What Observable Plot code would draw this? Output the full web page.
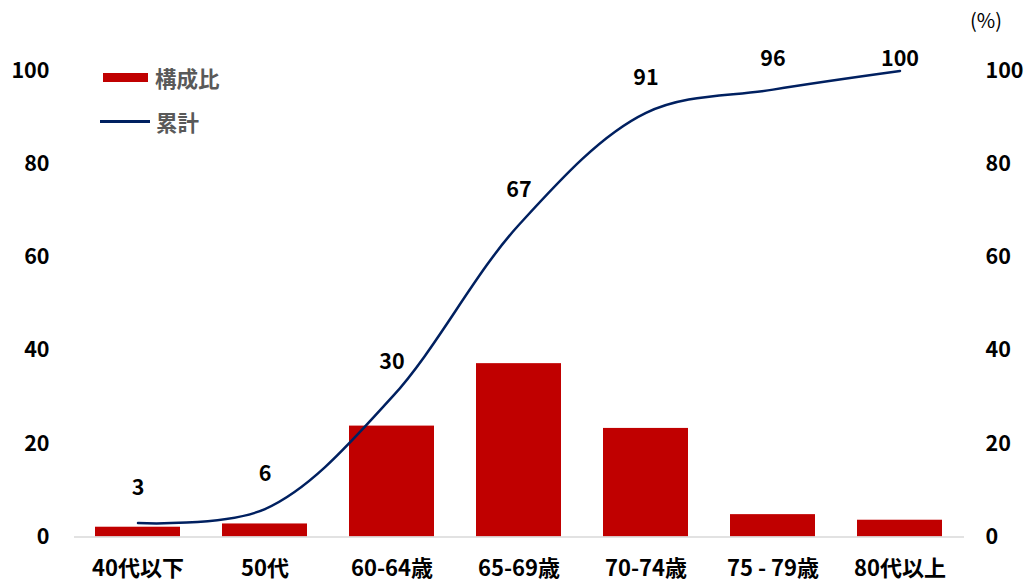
<!DOCTYPE html>
<html lang="ja">
<head>
<meta charset="utf-8">
<script src="https://cdn.jsdelivr.net/npm/d3@7"></script>
<script src="https://cdn.jsdelivr.net/npm/@observablehq/plot@0.6"></script>
<style>
  html, body { margin: 0; padding: 0; background: #fff; }
  #wrap { position: relative; width: 1027px; height: 587px; font-family: "Noto Sans CJK JP", sans-serif; }
  .legend { position: absolute; left: 0; top: 0; font-size: 21.5px; font-weight: 700; color: #595959; }
  .legend .item { position: absolute; display: flex; align-items: center; white-space: nowrap; }
  .legend .bar { width: 45px; height: 9px; background: #C00000; margin-right: 7px; }
  .legend .line { width: 50px; height: 2.5px; background: #002060; margin-right: 6px; }
  .unit { position: absolute; left: 970px; top: 5px; font-size: 20px; color: #000; }
</style>
</head>
<body>
<div id="wrap">
  <div class="unit">(%)</div>
  <div class="legend">
    <div class="item" style="left:103px; top:62px;"><span class="bar"></span>構成比</div>
    <div class="item" style="left:100px; top:106px;"><span class="line"></span>累計</div>
  </div>
</div>
<script>
// Age groups and their shares (%), with the running total
const categories = ["40代以下", "50代", "60-64歳", "65-69歳", "70-74歳", "75 - 79歳", "80代以上"];
const shares = [2.1, 2.8, 23.8, 37.2, 23.3, 4.8, 3.6];
const cumulative = [3, 6, 30, 67, 91, 96, 100];
const yTicks = [0, 20, 40, 60, 80, 100];

const rows = categories.map((c, i) => ({cat: c, share: shares[i], cum: cumulative[i]}));

const font = "'Noto Sans CJK JP', sans-serif";

const chart = Plot.plot({
  width: 1027,
  height: 587,
  marginTop: 70.5,
  marginBottom: 50.5,
  marginLeft: 74,
  marginRight: 63,
  style: {fontFamily: font, fontSize: "21.5px", fontWeight: 700, color: "#000", background: "#fff"},
  x: {domain: categories, paddingInner: 0.33, paddingOuter: 0.165, label: null},
  y: {domain: [0, 100], label: null},
  marks: [
    Plot.axisY({anchor: "left", ticks: yTicks, tickSize: 0, tickPadding: 25, label: null, fill: "#000"}),
    Plot.axisY({anchor: "right", ticks: yTicks, tickSize: 0, tickPadding: 21, label: null, fill: "#000", textAnchor: "start"}),
    Plot.axisX({tickSize: 0, tickPadding: 23, label: null, fill: "#000", fontSize: 22}),
    Plot.barY(rows, {x: "cat", y: "share", fill: "#C00000"}),
    Plot.ruleY([0], {stroke: "#d9d9d9", strokeWidth: 1.5}),
    Plot.line(rows, {x: "cat", y: "cum", stroke: "#002060", strokeWidth: 2.5, curve: "catmull-rom"}),
    Plot.text(rows, {x: "cat", y: d => Math.min(d.cum, 95), dy: -35, text: d => String(d.cum),
      fill: "#000", fontSize: 21.5, fontWeight: 700})
  ]
});

document.getElementById("wrap").prepend(chart);
chart.style.position = "absolute";
chart.style.left = "0";
chart.style.top = "0";
</script>
</body>
</html>
